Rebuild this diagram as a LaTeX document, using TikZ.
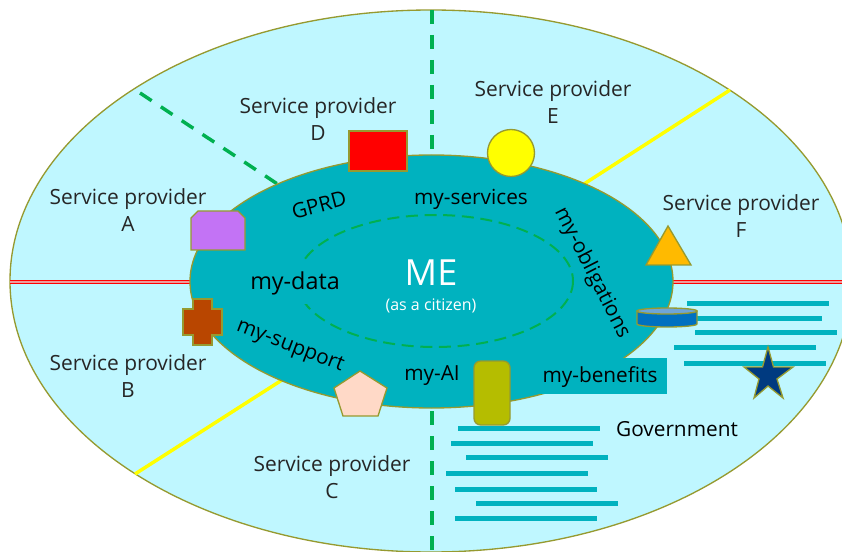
\documentclass[tikz,border=0pt]{standalone}
\usepackage{fontspec}
\setmainfont{Open Sans}
\usetikzlibrary{positioning}
\definecolor{skyfill}{HTML}{BFF7FF}
\definecolor{tealfill}{HTML}{00B2BF}
\definecolor{olivedge}{HTML}{969A30}
\definecolor{dashgreen}{HTML}{00B050}
\definecolor{redfill}{HTML}{EE9A9A}
\definecolor{sunline}{RGB}{255,255,0}
\definecolor{trianglefill}{HTML}{FFBA00}
\definecolor{snipfill}{RGB}{195,115,245}
\definecolor{crossfill}{RGB}{185,70,0}
\definecolor{pentafill}{RGB}{255,217,199}
\definecolor{pillfill}{RGB}{181,189,0}
\definecolor{drumfill}{RGB}{0,112,192}
\definecolor{drumtop}{RGB}{112,165,215}
\definecolor{starfill}{RGB}{0,58,128}
\tikzset{
  provider/.style={align=center, font=\fontsize{15.7}{20}\selectfont, text=black!85},
  inlabel/.style={font=\fontsize{15.6}{20}\selectfont, text=black, inner sep=0pt},
  gadget/.style={draw=olivedge, line width=1pt},
  splitdash/.style={dashgreen, line width=2.6pt, dash pattern=on 10.5pt off 8.25pt},
  splitsun/.style={sunline, line width=2.6pt},
}
\begin{document}
\begin{tikzpicture}[x=0.75pt,y=-0.75pt]
    \useasboundingbox (0,0) rectangle (842,552);
    \clip (0,0) rectangle (842,552);

    % Outer region
    \draw[fill=skyfill, draw=olivedge, line width=1pt] (431,281) ellipse [x radius=421, y radius=271];

    % Dividers
    \coordinate (topOut) at (432,10);
    \coordinate (topIn) at (432,150);
    \coordinate (botOut) at (432,552);
    \coordinate (botIn) at (432,411);
    \coordinate (dOut) at (140,93);
    \coordinate (dIn) at (279,185);
    \coordinate (fOut) at (730,90);
    \coordinate (fIn) at (584,184);
    \coordinate (cOut) at (135,474);
    \coordinate (cIn) at (282,380);
    \coordinate (leftOut) at (10,281.7);
    \coordinate (leftIn) at (191,281.7);
    \coordinate (rightOut) at (842,281.7);
    \coordinate (rightIn) at (672,281.7);
    \draw[splitdash] (topOut) -- (topIn);
    \draw[splitdash] (botIn) -- (botOut);
    \draw[splitdash] (dOut) -- (dIn);
    \draw[splitsun] (fOut) -- (fIn);
    \draw[splitsun] (cOut) -- (cIn);
    \foreach \a/\b in {leftOut/leftIn, rightIn/rightOut} {
        \draw[red, line width=3pt] (\a) -- (\b);
        \draw[redfill, line width=1.5pt] (\a) -- (\b);
    }

    % Government lines
    \foreach \x/\y in {687/303, 680/318, 695/332, 674/347, 684/363, 458/428, 451/443, 466/457, 446/473, 455/489, 476/503, 455/518} {
        \fill[tealfill] (\x,\y-2.5) rectangle (\x+142,\y+2.5);
    }

    % Inner region
    \draw[fill=tealfill, draw=olivedge, line width=1pt] (431.5,281.5) ellipse [x radius=241.5, y radius=126.5];
    \fill[tealfill] (540,358) rectangle (667,394);
    \draw[dashgreen, line width=1.5pt, dash pattern=on 9pt off 5pt] (435,281) ellipse [x radius=138, y radius=66];

    % Gadgets on the rim
    \draw[gadget, fill=red] (349,131) rectangle (407,171);
    \draw[gadget, fill=sunline] (511,153) circle [radius=23.5];
    \draw[gadget, fill=trianglefill] (668,226) -- (691,265) -- (646,265) -- cycle;
    \draw[gadget, fill=snipfill] (198,211) -- (238,211) -- (245,218) -- (245,250) -- (191,250) -- (191,218) -- cycle;
    \draw[gadget, fill=crossfill] (193,299) -- (212,299) -- (212,309) -- (222,309) -- (222,335) -- (212,335) -- (212,345) -- (193,345) -- (193,335) -- (183,335) -- (183,309) -- (193,309) -- cycle;
    \draw[gadget, fill=pentafill] (360,371) -- (387,388) -- (378,416) -- (343,416) -- (334,388) -- cycle;
    \draw[gadget, fill=pillfill, rounded corners=5pt] (474,361) rectangle (510,425);
    \draw[gadget, fill=drumfill] (637,311) -- (637,324) arc [start angle=180, end angle=0, x radius=30, y radius=3] -- (697,311) -- cycle;
    \draw[gadget, fill=drumtop] (667,311) ellipse [x radius=30, y radius=3];
    \draw[gadget, fill=starfill] (768,347) -- (773.5,367) -- (793,367) -- (777,379) -- (783,398) -- (768,386) -- (754,398) -- (759,379) -- (744,367) -- (762.5,367) -- cycle;

    % Service providers
    \node[provider] (provA) at (128,210) {Service provider\\A};
    \node[provider] (provB) at (128,376) {Service provider\\B};
    \node[provider] (provC) at (332,477) {Service provider\\C};
    \node[provider] (provD) at (318,119) {Service provider\\D};
    \node[provider] (provE) at (553,102) {Service provider\\E};
    \node[provider] (provF) at (741,216) {Service provider\\F};

    % Labels inside
    \node[inlabel, rotate=15] (gprd) at (319,205) {GPRD};
    \node[inlabel] (services) at (471,199) {my-services};
    \node[inlabel, fill=tealfill, minimum height=32pt, font=\fontsize{17.5}{20}\selectfont] (data) at (295,283) {my-data};
    \node[inlabel, rotate=-63] (obligations) at (592,273) {my-obligations};
    \node[inlabel, rotate=-21] (support) at (290,347) {my-support};
    \node[inlabel] (ai) at (432,376) {my-AI};
    \node[inlabel] (benefits) at (600,377) {my-benefits};
    \node[inlabel] (gov) at (677,429) {Government};
    \node[white, inner sep=0pt, font=\fontsize{27}{30}\selectfont] (me) at (431,273) {ME};
    \node[white, inner sep=0pt, font=\fontsize{12}{14}\selectfont] (citizen) at (431,306) {(as a citizen)};
\end{tikzpicture}
\end{document}
